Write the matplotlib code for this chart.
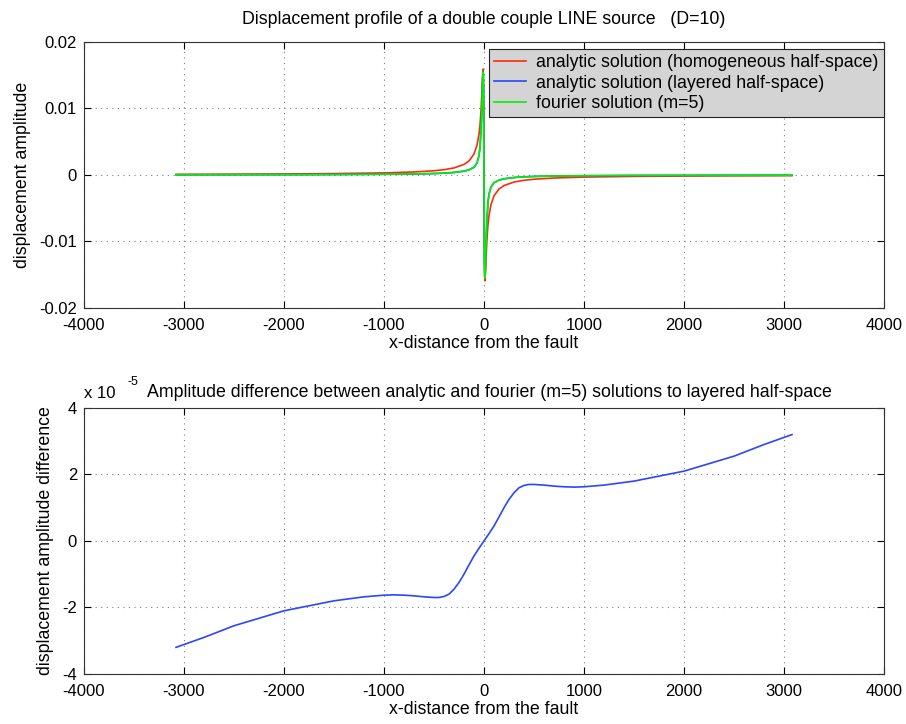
import matplotlib
matplotlib.use("Agg")
import matplotlib.pyplot as plt

# ---------------------------------------------------------------------------
# Style (old Matlab look)
# ---------------------------------------------------------------------------
plt.rcParams.update({
    "font.family": ["Liberation Sans", "DejaVu Sans"],
    "font.size": 12,
    "axes.unicode_minus": False,
    "xtick.direction": "in",
    "ytick.direction": "in",
    "xtick.top": True,
    "ytick.right": True,
    "xtick.major.size": 5,
    "ytick.major.size": 5,
    "xtick.major.pad": 7.5,
    "ytick.major.pad": 5,
    "axes.edgecolor": "#333333",
})

RED = "#ff2a0a"
BLUE = "#2a46ff"
GREEN = "#00f000"

# ---------------------------------------------------------------------------
# Data
# ---------------------------------------------------------------------------
x_top = [-3080, -2500, -2000, -1500, -1000, -700, -500, -400, -300, -200,
         -150, -100, -70, -50, -40, -30, -20, -15, -10, -7, -5, -3, 0,
         3, 5, 7, 10, 15, 20, 30, 40, 50, 70, 100, 150, 200, 300, 400,
         500, 700, 1000, 1500, 2000, 2500, 3080]

homog = [1.03e-4, 1.27e-4, 1.59e-4, 2.12e-4, 3.18e-4, 4.55e-4, 6.36e-4,
         7.95e-4, 1.06e-3, 1.59e-3, 2.11e-3, 3.15e-3, 4.46e-3, 6.12e-3,
         7.49e-3, 9.55e-3, 1.273e-2, 1.469e-2, 1.592e-2, 1.495e-2,
         1.273e-2, 8.76e-3, 0.0,
         -8.76e-3, -1.273e-2, -1.495e-2, -1.592e-2, -1.469e-2, -1.273e-2,
         -9.55e-3, -7.49e-3, -6.12e-3, -4.46e-3, -3.15e-3, -2.11e-3,
         -1.59e-3, -1.06e-3, -7.95e-4, -6.36e-4, -4.55e-4, -3.18e-4,
         -2.12e-4, -1.59e-4, -1.27e-4, -1.03e-4]

layered = [2.7e-5, 3.6e-5, 4.8e-5, 6.8e-5, 1.08e-4, 1.58e-4, 2.18e-4,
           2.78e-4, 3.78e-4, 5.78e-4, 7.78e-4, 1.148e-3, 1.798e-3, 2.898e-3,
           4.198e-3, 6.598e-3, 1.0798e-2, 1.3598e-2, 1.5499e-2, 1.52e-2,
           1.30e-2, 8.6e-3, 0.0,
           -8.6e-3, -1.30e-2, -1.52e-2, -1.5499e-2, -1.3598e-2, -1.0798e-2,
           -6.598e-3, -4.198e-3, -2.898e-3, -1.798e-3, -1.148e-3, -7.78e-4,
           -5.78e-4, -3.78e-4, -2.78e-4, -2.18e-4, -1.58e-4, -1.08e-4,
           -6.8e-5, -4.8e-5, -3.6e-5, -2.7e-5]

fourier = [3.0e-5, 4.0e-5, 5.0e-5, 7.0e-5, 1.1e-4, 1.6e-4, 2.2e-4,
           2.8e-4, 3.8e-4, 5.8e-4, 7.8e-4, 1.15e-3, 1.8e-3, 2.9e-3,
           4.2e-3, 6.6e-3, 1.08e-2, 1.36e-2, 1.55e-2, 1.52e-2,
           1.30e-2, 8.6e-3, 0.0,
           -8.6e-3, -1.30e-2, -1.52e-2, -1.55e-2, -1.36e-2, -1.08e-2,
           -6.6e-3, -4.2e-3, -2.9e-3, -1.8e-3, -1.15e-3, -7.8e-4,
           -5.8e-4, -3.8e-4, -2.8e-4, -2.2e-4, -1.6e-4, -1.1e-4,
           -7.0e-5, -5.0e-5, -4.0e-5, -3.0e-5]

x_diff = [-3080, -2800, -2500, -2000, -1500, -1200, -1000, -900, -800, -700,
          -600, -500, -450, -400, -350, -300, -250, -200, -150, -100, -50, 0,
          50, 100, 150, 200, 250, 300, 350, 400, 450, 500, 600, 700, 800,
          900, 1000, 1200, 1500, 2000, 2500, 2800, 3080]

# difference in units of 1e-5
diff = [-3.2, -2.9, -2.55, -2.1, -1.8, -1.68, -1.63, -1.62, -1.63, -1.65,
        -1.68, -1.70, -1.70, -1.67, -1.6, -1.45, -1.25, -1.0, -0.72, -0.45,
        -0.22, 0.0,
        0.22, 0.45, 0.72, 1.0, 1.25, 1.45, 1.6, 1.67, 1.70, 1.70, 1.68,
        1.65, 1.63, 1.62, 1.63, 1.68, 1.8, 2.1, 2.55, 2.9, 3.2]

x_ticks = [-4000, -3000, -2000, -1000, 0, 1000, 2000, 3000, 4000]
top_yticks = [-0.02, -0.01, 0, 0.01, 0.02]
top_yticklabels = ["-0.02", "-0.01", "0", "0.01", "0.02"]
bot_yticks = [-4, -2, 0, 2, 4]

# ---------------------------------------------------------------------------
# Figure
# ---------------------------------------------------------------------------
fig = plt.figure(figsize=(9.06, 7.24), dpi=100)
ax1 = fig.add_axes([0.0927, 0.5746, 0.883, 0.3674])
ax2 = fig.add_axes([0.0927, 0.0691, 0.883, 0.3674])

grid_kw = dict(color="#808080", linestyle=(0, (1, 4)), linewidth=0.8)

# top panel
ax1.plot(x_top, homog, color=RED, linewidth=1.2,
         label="analytic solution (homogeneous half-space)")
ax1.plot(x_top, layered, color=BLUE, linewidth=1.2,
         label="analytic solution (layered half-space)")
ax1.plot(x_top, fourier, color=GREEN, linewidth=1.2,
         label="fourier solution (m=5)")
ax1.set_xlim(-4000, 4000)
ax1.set_ylim(-0.02, 0.02)
ax1.set_xticks(x_ticks)
ax1.set_xticklabels([str(t) for t in x_ticks])
ax1.set_yticks(top_yticks)
ax1.set_yticklabels(top_yticklabels)
ax1.grid(True, **grid_kw)
ax1.set_xlabel("x-distance from the fault", fontsize=12.8, labelpad=1)
ax1.set_ylabel("displacement amplitude", fontsize=12.8, labelpad=6)
ax1.set_title("Displacement profile of a double couple LINE source   (D=10)",
              fontsize=12.8, pad=13)
leg = ax1.legend(loc="upper right", bbox_to_anchor=(1.0, 0.975),
                 fancybox=False, framealpha=1, fontsize=12.8,
                 facecolor="#d4d4d4", edgecolor="#222222",
                 borderaxespad=0, borderpad=0.3, labelspacing=0.2,
                 handlelength=1.8, handletextpad=0.55)
leg.get_frame().set_linewidth(0.8)

# bottom panel
ax2.plot(x_diff, diff, color=BLUE, linewidth=1.2)
ax2.set_xlim(-4000, 4000)
ax2.set_ylim(-4, 4)
ax2.set_xticks(x_ticks)
ax2.set_xticklabels([str(t) for t in x_ticks])
ax2.set_yticks(bot_yticks)
ax2.grid(True, **grid_kw)
ax2.set_xlabel("x-distance from the fault", fontsize=12.8, labelpad=1)
ax2.set_ylabel("displacement amplitude difference", fontsize=12.8,
               labelpad=6)
ax2.text(0.507, 1.028, "Amplitude difference between analytic and fourier "
         "(m=5) solutions to layered half-space", transform=ax2.transAxes,
         ha="center", va="bottom", fontsize=12.8)
ax2.text(0.0, 1.025, "x 10", transform=ax2.transAxes, ha="left",
         va="bottom", fontsize=12)
ax2.text(0.055, 1.075, "-5", transform=ax2.transAxes, ha="left",
         va="bottom", fontsize=9)

fig.savefig("out.png", dpi=100)
